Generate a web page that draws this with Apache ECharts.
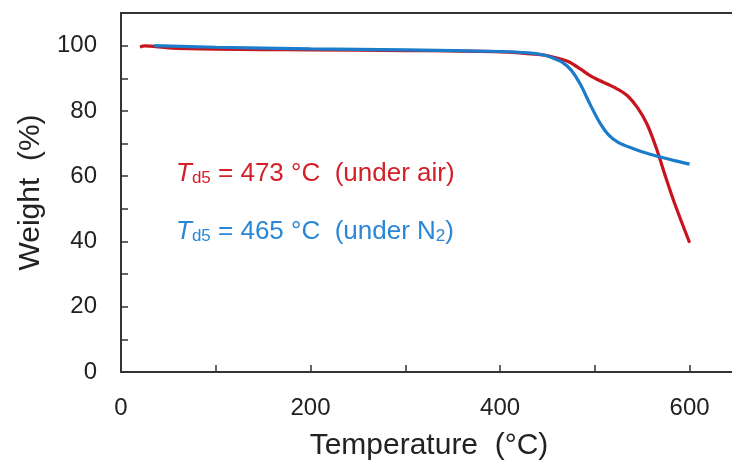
<!DOCTYPE html>
<html>
<head>
<meta charset="utf-8">
<script src="https://cdn.jsdelivr.net/npm/echarts@6/dist/echarts.min.js"></script>
<style>
  html, body { margin: 0; padding: 0; background: #fff; }
  #chart { width: 732px; height: 466px; }
</style>
</head>
<body>
<div id="chart"></div>
<script>
// TGA curves: temperature (°C) vs. remaining weight (%)
const airTemp = [20, 25, 50, 100, 150, 200, 300, 400, 440, 455, 465, 473, 485, 495, 505, 515, 525, 535, 545, 555, 565, 575, 585, 600];
const airWeight = [99.6, 99.9, 99.3, 98.9, 98.8, 98.7, 98.5, 98.1, 97.3, 96.6, 95.8, 95.0, 92.8, 90.8, 89.3, 88.0, 86.5, 84.5, 81.0, 76.0, 68.5, 59.5, 51.0, 39.6];

const n2Temp = [35, 100, 200, 300, 400, 430, 445, 455, 465, 475, 485, 495, 505, 515, 525, 540, 555, 570, 585, 600];
const n2Weight = [100.0, 99.5, 99.0, 98.7, 98.2, 97.8, 97.2, 96.3, 95.0, 92.5, 88.0, 82.0, 76.5, 72.5, 70.3, 68.5, 67.0, 65.8, 64.7, 63.7];

const xTickStep = 100, xLabelStep = 200;
const yTickStep = 10, yLabelStep = 20;

const airLabel = { td: '473', atmosphere: 'under air' };
const n2Label = { td: '465', atmosphere: 'under N', sub: '2' };

const RED = '#c8141e';
const BLUE = '#1b7ccc';
const RED_TEXT = '#d22028';
const BLUE_TEXT = '#2a86d6';
const INK = '#222';
const FONT = '"Liberation Sans", Arial, sans-serif';

const zip = (xs, ys) => xs.map((x, i) => [x, ys[i]]);

// italic symbol, subscript and normal runs for the Td5 annotations
function richFor(color) {
  return {
    i: { fontStyle: 'italic', fontSize: 26, fontFamily: FONT, fill: color, lineHeight: 30, verticalAlign: 'bottom' },
    s: { fontSize: 17, fontFamily: FONT, fill: color, lineHeight: 17, verticalAlign: 'bottom' },
    n: { fontSize: 26, fontFamily: FONT, fill: color, lineHeight: 30, verticalAlign: 'bottom' }
  };
}

const chart = echarts.init(document.getElementById('chart'), null, { renderer: 'canvas' });

const axisLine = { show: true, lineStyle: { color: '#333', width: 2 } };

chart.setOption({
  animation: false,
  backgroundColor: '#fff',
  grid: { left: 121, top: 13, right: -5, bottom: 94, containLabel: false, outerBoundsMode: 'none' },
  xAxis: [
    {
      type: 'value',
      min: 0, max: 650, interval: xTickStep,
      name: 'Temperature  (°C)',
      nameLocation: 'middle',
      nameGap: 59,
      nameTextStyle: { fontFamily: FONT, fontSize: 30, color: INK },
      axisLine,
      axisTick: { show: true, inside: true, length: 7, lineStyle: { color: '#333', width: 1.5 } },
      axisLabel: {
        margin: 24,
        fontFamily: FONT, fontSize: 24, color: INK,
        formatter: v => (v % xLabelStep === 0 ? String(v) : '')
      },
      splitLine: { show: false }
    },
    {
      type: 'value', position: 'top',
      min: 0, max: 650,
      axisLine,
      axisTick: { show: false },
      axisLabel: { show: false },
      splitLine: { show: false }
    }
  ],
  yAxis: {
    type: 'value',
    min: 0, max: 110, interval: yTickStep,
    name: 'Weight  (%)',
    nameLocation: 'middle',
    nameGap: 75,
    nameRotate: 90,
    nameTextStyle: { fontFamily: FONT, fontSize: 30, color: INK },
    axisLine,
    axisTick: { show: true, inside: true, length: 7, lineStyle: { color: '#333', width: 1.5 } },
    axisLabel: {
      margin: 24,
      fontFamily: FONT, fontSize: 24, color: INK,
      formatter: v => (v % yLabelStep === 0 ? String(v) : '')
    },
    splitLine: { show: false }
  },
  series: [
    {
      name: 'air', type: 'line', xAxisIndex: 0, smooth: 0.3, showSymbol: false,
      data: zip(airTemp, airWeight),
      lineStyle: { color: RED, width: 3.2 }, z: 2
    },
    {
      name: 'N2', type: 'line', xAxisIndex: 0, smooth: 0.3, showSymbol: false,
      data: zip(n2Temp, n2Weight),
      lineStyle: { color: BLUE, width: 3.2 }, z: 3
    }
  ],
  graphic: [
    {
      type: 'text', left: 176, top: 161,
      style: {
        text: `{i|T}{s|d5}{n| = ${airLabel.td} °C  (${airLabel.atmosphere})}`,
        rich: richFor(RED_TEXT)
      }
    },
    {
      type: 'text', left: 176, top: 219,
      style: {
        text: `{i|T}{s|d5}{n| = ${n2Label.td} °C  (${n2Label.atmosphere}}{s|${n2Label.sub}}{n|)}`,
        rich: richFor(BLUE_TEXT)
      }
    }
  ]
});
</script>
</body>
</html>
